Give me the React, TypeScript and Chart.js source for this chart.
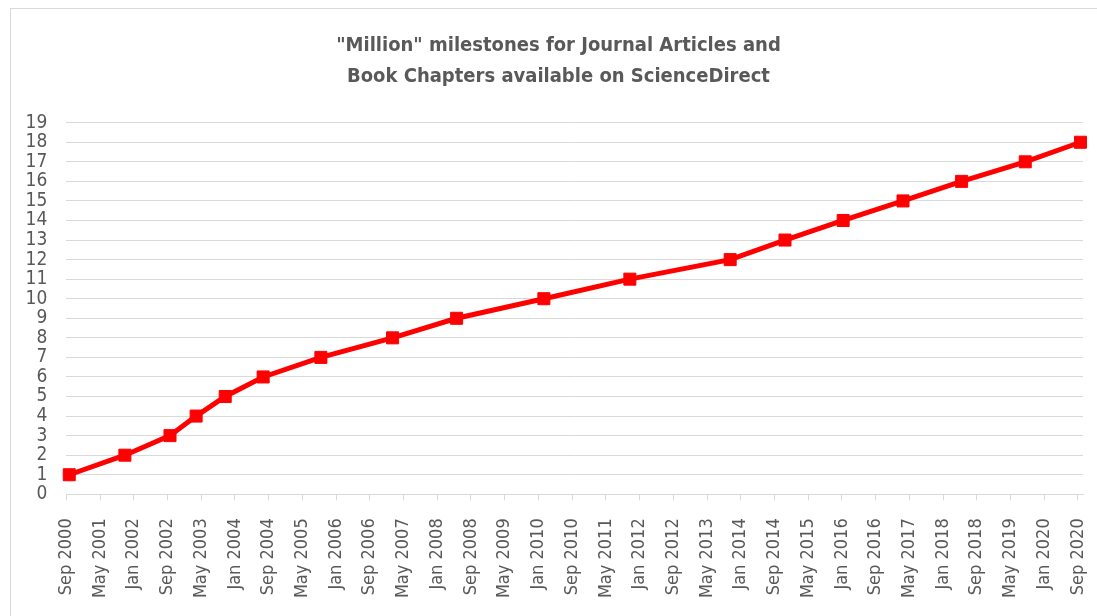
import React, { useEffect, useRef } from "react";
import { Chart, registerables } from "chart.js";

Chart.register(...registerables);

// ---- data ----
const TITLE_LINES = ['"Million" milestones for Journal Articles and', "Book Chapters available on ScienceDirect"];
// months elapsed since Sep 2000 at which each million was reached
const MILESTONE_MONTHS = [0.7, 13.9, 24.6, 30.8, 37.7, 46.7, 60.4, 77.4, 92.6, 113.3, 133.7, 157.5, 170.5, 184.3, 198.5, 212.4, 227.5, 240.6];
const MILESTONE_MILLIONS = [1, 2, 3, 4, 5, 6, 7, 8, 9, 10, 11, 12, 13, 14, 15, 16, 17, 18];
const START_YEAR = 2000;
const START_MONTH_INDEX = 8; // September
const MONTH_NAMES = ["Jan", "Feb", "Mar", "Apr", "May", "Jun", "Jul", "Aug", "Sep", "Oct", "Nov", "Dec"];
const X_TICK_STEP_MONTHS = 8;
const X_MAX_MONTHS = 241.2;
const Y_MIN = 0;
const Y_MAX = 19;

const TEXT_COLOR = "#595959";
const GRID_COLOR = "#d9d9d9";
const FONT_FAMILY = '"DejaVu Sans Condensed", "Liberation Sans Narrow", "Liberation Sans", sans-serif';
const TITLE_FAMILY = '"Liberation Sans Narrow", "DejaVu Sans Condensed", "Liberation Sans", sans-serif';

function monthLabel(v: number): string {
  const total = START_MONTH_INDEX + Math.round(v);
  const year = START_YEAR + Math.floor(total / 12);
  return MONTH_NAMES[total % 12] + " " + year;
}

const unclipYLabels = {
  id: "unclipYLabels",
  afterLayout(chart: any) {
    const y = chart.scales.y;
    if (y) y.left = 0;
  },
};

export default function App() {
  const ref = useRef<HTMLCanvasElement | null>(null);

  useEffect(() => {
    if (!ref.current) return;
    const points = MILESTONE_MONTHS.map((m, i) => ({ x: m, y: MILESTONE_MILLIONS[i] }));
    const chart = new Chart(ref.current, {
      type: "line",
      data: {
        datasets: [
          {
            data: points,
            borderColor: "#ff0000",
            backgroundColor: "#ff0000",
            borderWidth: 5,
            pointStyle: "rect",
            pointRadius: 8.5,
            pointBorderWidth: 1,
            pointBorderColor: "#ff0000",
            pointBackgroundColor: "#ff0000",
            tension: 0,
            clip: false as any,
          },
        ],
      },
      plugins: [unclipYLabels],
      options: {
        responsive: false,
        animation: false,
        devicePixelRatio: 1,
        layout: { padding: { left: 34, right: 14, top: 0, bottom: 0 } },
        plugins: {
          legend: { display: false },
          tooltip: { enabled: false },
          title: {
            display: true,
            text: TITLE_LINES,
            color: TEXT_COLOR,
            font: { family: TITLE_FAMILY, size: 20, weight: "bold", lineHeight: 1.55 },
            padding: { top: 30.5, bottom: 30.2 },
          },
        },
        scales: {
          x: {
            type: "linear",
            min: 0,
            max: X_MAX_MONTHS,
            afterFit: (s: any) => {
              s.height = 616 - 494.3;
              s.paddingLeft = 0;
              s.paddingRight = 0;
            },
            grid: { drawOnChartArea: false, drawTicks: true, tickLength: 6, color: GRID_COLOR },
            border: { display: true, color: GRID_COLOR, width: 1 },
            ticks: {
              stepSize: X_TICK_STEP_MONTHS,
              includeBounds: false,
              autoSkip: false,
              minRotation: 90,
              maxRotation: 90,
              padding: 18,
              color: TEXT_COLOR,
              font: { family: FONT_FAMILY, size: 18 },
              callback: (v: any) => monthLabel(Number(v)),
            },
          },
          y: {
            min: Y_MIN,
            max: Y_MAX,
            afterFit: (s: any) => {
              s.width = 66.3 - 34;
              s.paddingTop = 0;
              s.paddingBottom = 0;
            },
            grid: { color: GRID_COLOR, drawTicks: false, lineWidth: 1 },
            border: { display: false },
            ticks: {
              stepSize: 1,
              autoSkip: false,
              padding: 19,
              color: TEXT_COLOR,
              font: { family: FONT_FAMILY, size: 19 },
            },
          },
        },
      },
    });
    return () => chart.destroy();
  }, []);

  return (
    <div
      style={{
        position: "fixed",
        left: 0,
        top: 0,
        width: 1097,
        height: 616,
        overflow: "hidden",
        background: "#ffffff",
      }}
    >
      <div
        style={{
          position: "absolute",
          left: 10,
          top: 8,
          width: 1200,
          height: 800,
          border: "1px solid " + GRID_COLOR,
          boxSizing: "border-box",
        }}
      />
      <canvas ref={ref} width={1097} height={616} style={{ position: "absolute", left: 0, top: 0 }} />
    </div>
  );
}
